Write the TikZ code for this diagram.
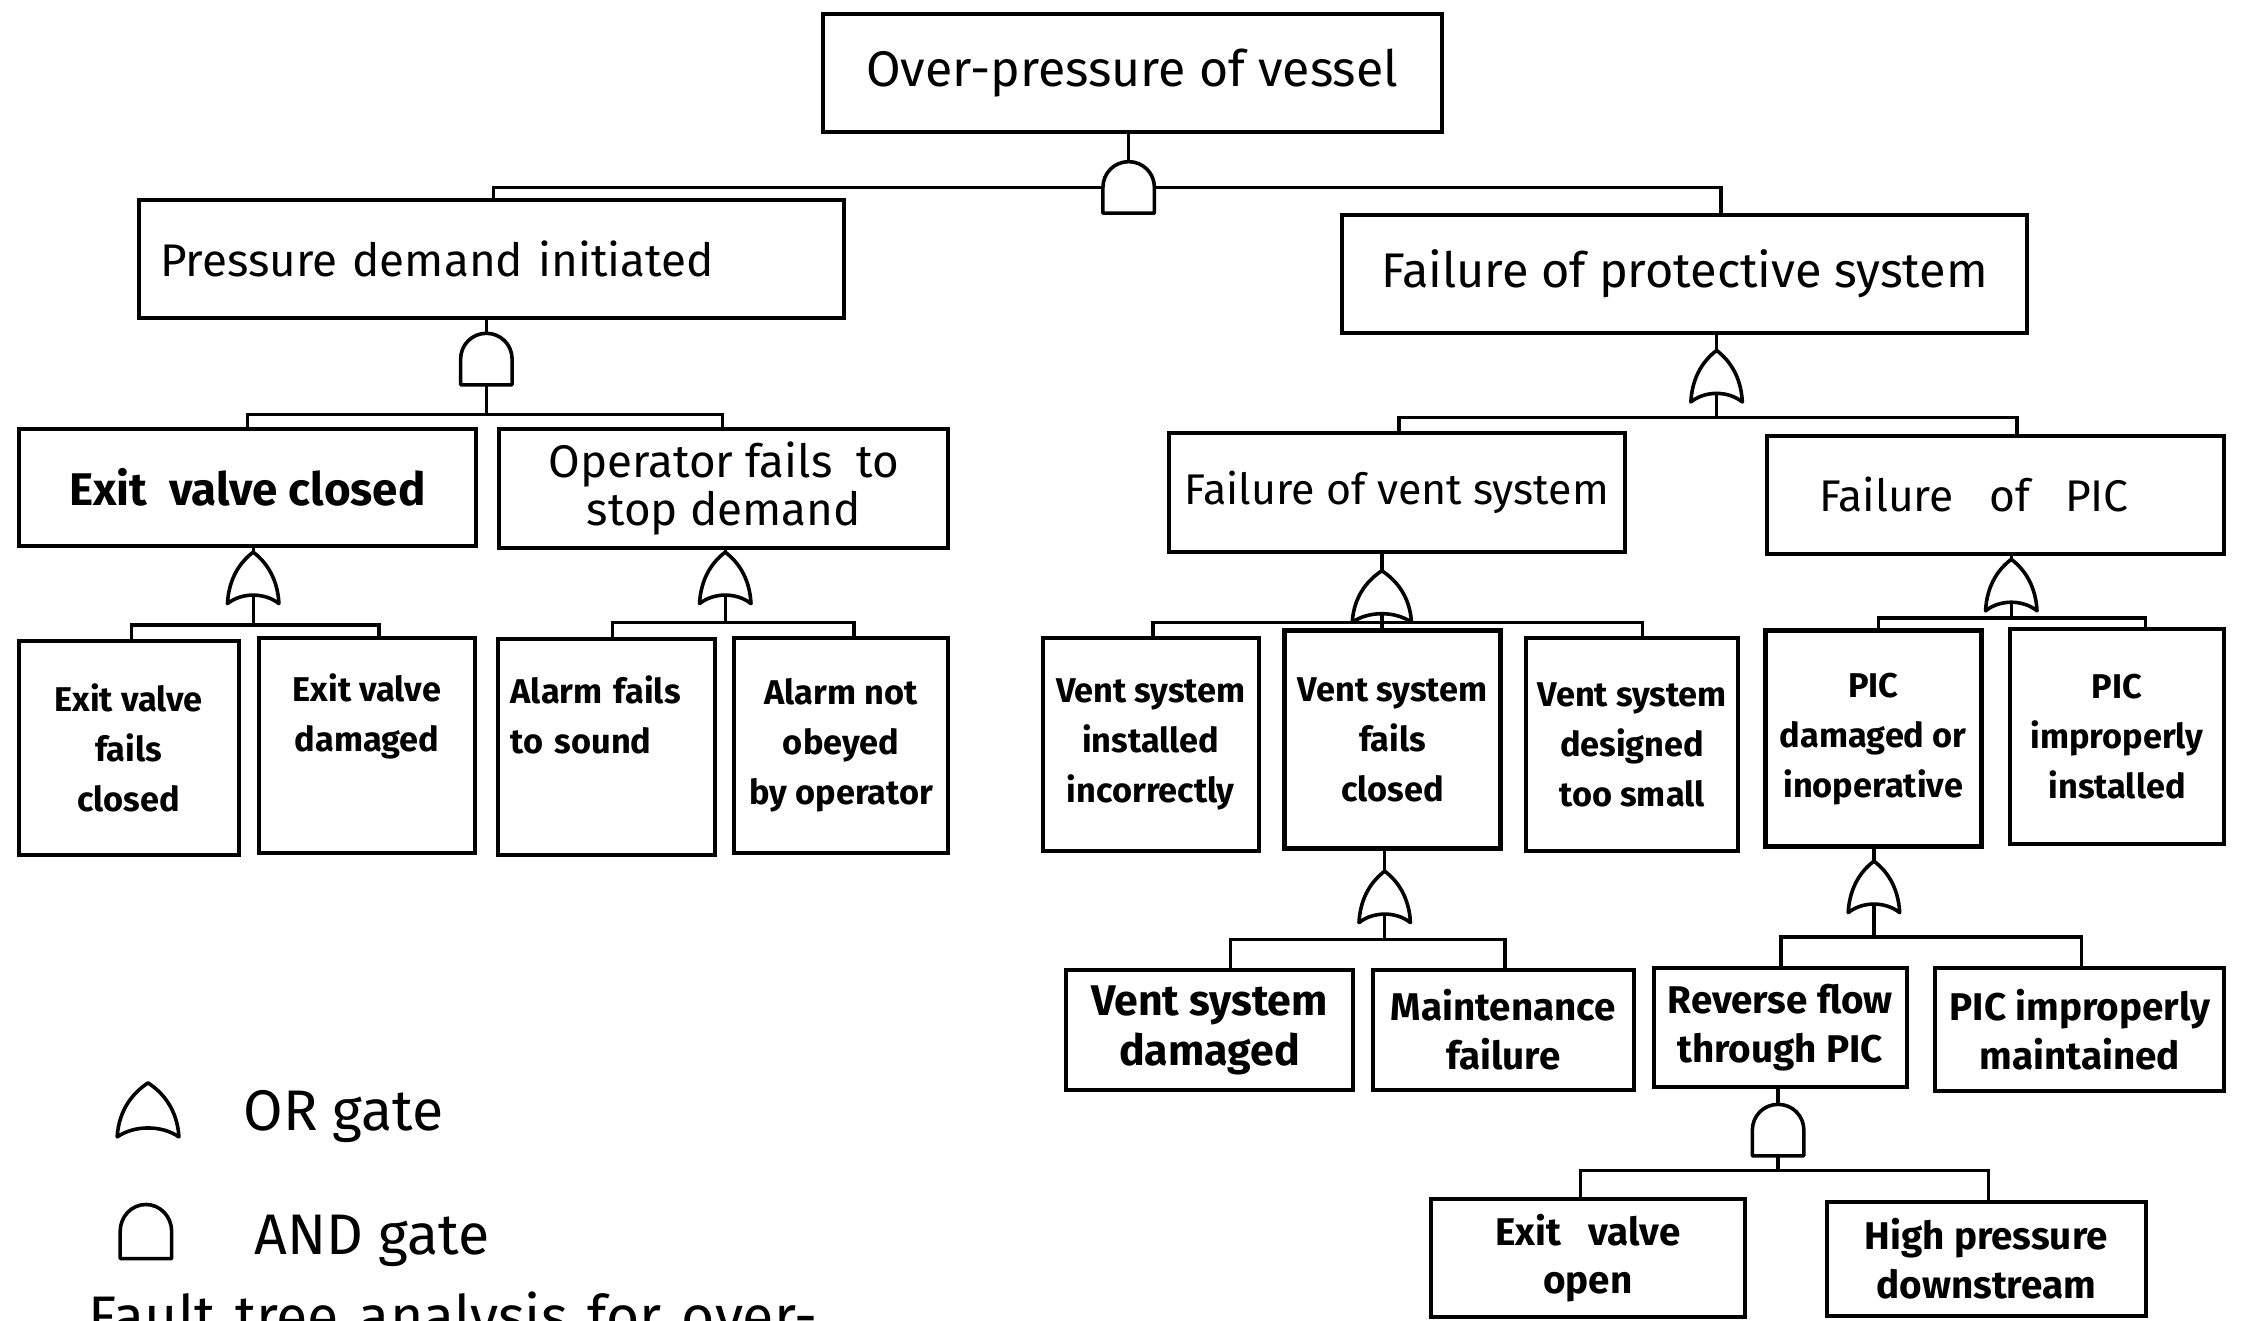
\documentclass[tikz,border=0pt]{standalone}
\usepackage{fontspec}
\setmainfont{Fira Sans}
\newcommand\fTop{\fontsize{35}{40}\selectfont}
\newcommand\fLone{\fontsize{34}{40}\selectfont}
\newcommand\fLtwo{\fontsize{30}{34}\selectfont}
\newcommand\fLeaf{\fontsize{24}{35}\selectfont\bfseries}
\newcommand\fLow{\fontsize{27}{34}\selectfont\bfseries}
\newcommand\fLeg{\fontsize{40}{44}\selectfont}
\tikzset{
  box/.style={draw, line width=2.8pt, inner sep=0pt, align=center, fill=white},
  heavybox/.style={box, line width=3.6pt},
  gateline/.style={line width=2.5pt, fill=white, line join=round},
  conn/.style={line width=2.3pt, line join=miter},
  andg/.pic={
    \draw[gateline] (-18,36) -- (-18,18) .. controls (-18,8) and (-10,0) .. (0,0)
       .. controls (10,0) and (18,8) .. (18,18) -- (18,36) -- cycle;
    \coordinate (-top) at (0,0);
    \coordinate (-bot) at (0,36);
    \coordinate (-l) at (-18,18);
    \coordinate (-r) at (18,18);
  },
  org/.pic={
    \draw[gateline] (-18,36) .. controls (-17,17) and (-8,6) .. (0,0)
       .. controls (8,6) and (17,17) .. (18,36)
       .. controls (8,28) and (-8,28) .. cycle;
    \coordinate (-top) at (0,0);
    \coordinate (-bot) at (0,30);
  },
}
\begin{document}
\begin{tikzpicture}[x=1pt,y=-1pt]
\useasboundingbox (0,0) rectangle (1568,923);
\clip (0,0) rectangle (1568,923);
\fill[white] (0,0) rectangle (1568,923);

% ---------- boxes ----------
\node[box, minimum width=433, minimum height=82, font=\fTop] (top) at (791.5,51) {Over-pressure of vessel};
\node[box, minimum width=493, minimum height=82, text width=463, align=left, font=\fontsize{32}{38}\selectfont] (pdi) at (343.5,181) {Pressure demand initiated};
\node[box, minimum width=479, minimum height=83, font=\fLone] (fps) at (1177.5,191.5) {Failure of protective system};

\node[box, minimum width=320, minimum height=82, font=\fontsize{32}{36}\selectfont\bfseries] (evc) at (173,341) {Exit\ \ valve closed};
\node[box, minimum width=314, minimum height=83, font=\fontsize{32}{34}\selectfont] (ofs) at (506,341.5) {Operator fails\ \ to\\stop demand};
\node[box, minimum width=319, minimum height=83, font=\fLtwo] (fvs) at (976.5,344.5) {Failure of vent system};
\node[box, minimum width=320, minimum height=82, font=\fontsize{31}{34}\selectfont] (fpic) at (1395,346) {\hspace*{-30pt}Failure\ \ \ of\ \ \ PIC};

\node[box, minimum width=154, minimum height=150, font=\fLeaf] (l1) at (90,523) {Exit valve\\fails\\closed};
\node[box, minimum width=151, minimum height=150, font=\fLeaf] (l2) at (256.5,521) {Exit valve\\damaged\\\strut};
\node[box, minimum width=152, minimum height=151, text width=134, align=left, font=\fLeaf] (l3) at (424,522.5) {Alarm fails\\to sound\\\strut};
\node[box, minimum width=150, minimum height=150, font=\fLeaf] (l4) at (588,521) {Alarm not\\obeyed\\by operator};

\node[box, minimum width=151, minimum height=149, font=\fLeaf] (r1) at (804.5,520.5) {Vent system\\installed\\incorrectly};
\node[heavybox, minimum width=151, minimum height=152, font=\fLeaf] (r2) at (973.5,517) {Vent system\\fails\\closed};
\node[box, minimum width=148, minimum height=149, font=\fLeaf] (r3) at (1141,520.5) {Vent system\\designed\\too small};
\node[heavybox, minimum width=151, minimum height=151, font=\fLeaf] (r4) at (1309.5,516.5) {PIC\\damaged or\\inoperative};
\node[box, minimum width=150, minimum height=150, font=\fLeaf] (r5) at (1480,515) {PIC\\improperly\\installed};

\node[box, minimum width=201, minimum height=84, font=\fontsize{30}{35}\selectfont\bfseries] (vsd) at (845.5,720) {Vent system\\damaged};
\node[box, minimum width=182, minimum height=84, font=\fLow] (mf) at (1051,720) {Maintenance\\failure};
\node[box, minimum width=177, minimum height=83, font=\fLow] (rf) at (1244.5,718.5) {Reverse flow\\through PIC};
\node[box, minimum width=202, minimum height=86, font=\fLow] (pim) at (1454,720) {PIC improperly\\maintained};

\node[box, minimum width=220, minimum height=83, font=\fLow] (evo) at (1110,879.5) {Exit\ \ \ valve\\open};
\node[box, minimum width=223, minimum height=80, font=\fLow] (hpd) at (1388.5,880) {High pressure\\downstream};

% ---------- gates ----------
\pic (g0) at (789,113) {andg};
\pic (g1) at (340,233) {andg};
\pic (g2) at (177,386) {org};
\pic (g3) at (507,386) {org};
\pic (g4) at (1200,245) {org};
\pic[xscale=1.15] (g5) at (966,399) {org};
\pic (g6) at (1406,391) {org};
\pic (g7) at (968,609) {org};
\pic (g8) at (1310,602) {org};
\pic (g9) at (1243,772) {andg};

% ---------- connectors ----------
% g0
\draw[conn] (top.south -| g0-top) -- (g0-top);
\coordinate (j0a) at (345,131);
\coordinate (j0b) at (1203,131);
\draw[conn] (j0a |- pdi.north) -- (j0a) -- (g0-l);
\draw[conn] (g0-r) -- (j0b) -- (j0b |- fps.north);
% g1
\draw[conn] (pdi.south -| g1-top) -- (g1-top);
\coordinate (j1a) at (173,290);
\coordinate (j1b) at (505,290);
\draw[conn] (g1-bot) -- (g1-bot |- j1a);
\draw[conn] (j1a |- evc.north) -- (j1a) -- (j1b) -- (j1b |- ofs.north);
% g2
\draw[conn] (evc.south -| g2-top) -- (g2-top);
\coordinate (j2a) at (92,437);
\coordinate (j2b) at (265,437);
\draw[conn] (g2-bot) -- (g2-bot |- j2a);
\draw[conn] (j2a |- l1.north) -- (j2a) -- (j2b) -- (j2b |- l2.north);
% g3
\draw[conn] (ofs.south -| g3-top) -- (g3-top);
\coordinate (j3a) at (428,435);
\coordinate (j3b) at (597,435);
\draw[conn] (g3-bot) -- (g3-bot |- j3a);
\draw[conn] (j3a |- l3.north) -- (j3a) -- (j3b) -- (j3b |- l4.north);
% g4
\draw[conn] (fps.south -| g4-top) -- (g4-top);
\coordinate (j4a) at (978,292);
\coordinate (j4b) at (1410,292);
\draw[conn] (g4-bot) -- (g4-bot |- j4a);
\draw[conn] (j4a |- fvs.north) -- (j4a) -- (j4b) -- (j4b |- fpic.north);
% g5
\draw[conn] (fvs.south -| g5-top) -- (g5-top);
\coordinate (j5a) at (806,435);
\coordinate (j5m) at (966,435);
\coordinate (j5b) at (1148,435);
\draw[conn] (g5-bot) -- (j5m) -- (j5m |- r2.north);
\draw[conn] (j5a |- r1.north) -- (j5a) -- (j5b) -- (j5b |- r3.north);
% g6
\draw[conn] (fpic.south -| g6-top) -- (g6-top);
\coordinate (j6a) at (1313,432);
\coordinate (j6b) at (1500,432);
\draw[conn] (g6-bot) -- (g6-bot |- j6a);
\draw[conn] (j6a |- r4.north) -- (j6a) -- (j6b) -- (j6b |- r5.north);
% g7
\draw[conn] (r2.south -| g7-top) -- (g7-top);
\coordinate (j7a) at (860,657);
\coordinate (j7b) at (1052,657);
\draw[conn] (g7-bot) -- (g7-bot |- j7a);
\draw[conn] (j7a |- vsd.north) -- (j7a) -- (j7b) -- (j7b |- mf.north);
% g8
\draw[conn] (r4.south -| g8-top) -- (g8-top);
\coordinate (j8a) at (1245,655);
\coordinate (j8b) at (1455,655);
\draw[conn] (g8-bot) -- (g8-bot |- j8a);
\draw[conn] (j8a |- rf.north) -- (j8a) -- (j8b) -- (j8b |- pim.north);
% g9
\draw[conn] (rf.south -| g9-top) -- (g9-top);
\coordinate (j9a) at (1105,818);
\coordinate (j9b) at (1390,818);
\draw[conn] (g9-bot) -- (g9-bot |- j9a);
\draw[conn] (j9a |- evo.north) -- (j9a) -- (j9b) -- (j9b |- hpd.north);

% ---------- legend ----------
\pic[xscale=1.2, yscale=1.05] (legor) at (103.5,757) {org};
\pic[yscale=1.05] (legand) at (102,842) {andg};
\node[anchor=base west, inner sep=0pt, font=\fLeg] (legortxt) at (170,790) {OR\ gate};
\node[anchor=base west, inner sep=0pt, font=\fLeg] (legandtxt) at (178,877) {AND\ gate};
\node[anchor=base west, inner sep=0pt, font=\fLeg] (caption) at (62,934) {Fault\hspace{14pt}tree\hspace{14pt}analysis\hspace{14pt}for\hspace{14pt}over-};
\end{tikzpicture}
\end{document}
